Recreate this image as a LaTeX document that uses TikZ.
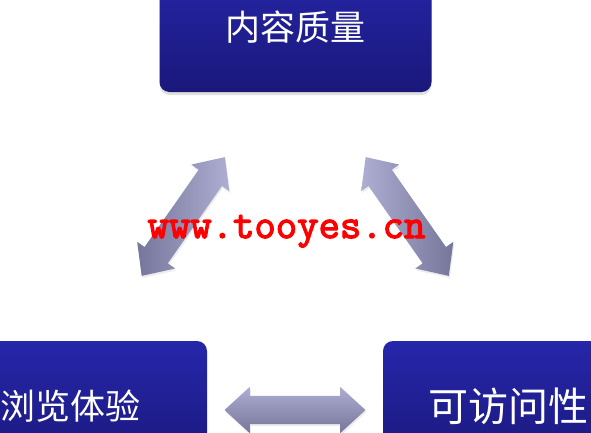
\documentclass[tikz,border=0pt]{standalone}
\usepackage{fontspec}
\newfontfamily\cjk{Noto Sans CJK SC}
\newfontfamily\markfont[FakeBold=3]{Latin Modern Mono}
\usetikzlibrary{positioning,calc}
\usetikzlibrary{shapes,arrows,shadows}

\definecolor{boxhi}{RGB}{38,38,170}
\definecolor{boxlo}{RGB}{26,24,122}
\definecolor{arrhi}{RGB}{174,174,210}
\definecolor{arrlo}{RGB}{118,118,156}

\begin{document}
\begin{tikzpicture}[x=1pt,y=-1pt]

\tikzstyle{every node}=[inner sep=0pt]
\tikzstyle{topic} = [rectangle, rounded corners=10pt, minimum width=272pt, minimum height=130pt,
    top color=boxhi, bottom color=boxlo, text=white, font=\cjk\fontsize{35}{40}\selectfont,
    drop shadow={shadow xshift=0pt, shadow yshift=-3pt, opacity=0.25}]
\tikzstyle{link} = [double arrow, minimum height=145pt, inner xsep=0pt, inner ysep=14pt,
    double arrow head extend=9pt, double arrow tip angle=85,
    drop shadow={shadow xshift=1pt, shadow yshift=-2pt, opacity=0.15}]

\useasboundingbox (0,0) rectangle (591,432);
\clip (0,0) rectangle (591,432);

% the three boxes
\node[topic] (content) at (295.5,27) {内容质量};
\node[topic] (browse) at (71,406) {浏览体验};
\node[topic, minimum width=250pt, font=\cjk\fontsize{40}{44}\selectfont] (access) at (508,406) {可访问性};

% arrows between them
\node[link, rotate=55, left color=arrlo, right color=arrhi]
    (contentbrowse) at ($(content.south west)!0.5!(browse.north east)$) {};
\node[link, rotate=-55, left color=arrhi, right color=arrlo]
    (contentaccess) at ($(content.south east)!0.5!(access.north west)$) {};
\node[link, minimum height=141pt, top color=arrhi, bottom color=arrlo]
    (browseaccess) at ($(browse.east)!0.5!(access.west)+(0,4)$) {};

\node[anchor=base, text=red, font=\markfont\fontsize{41.5}{42}\selectfont]
    (mark) at (286.5,238) {www.tooyes.cn};

\end{tikzpicture}
\end{document}
